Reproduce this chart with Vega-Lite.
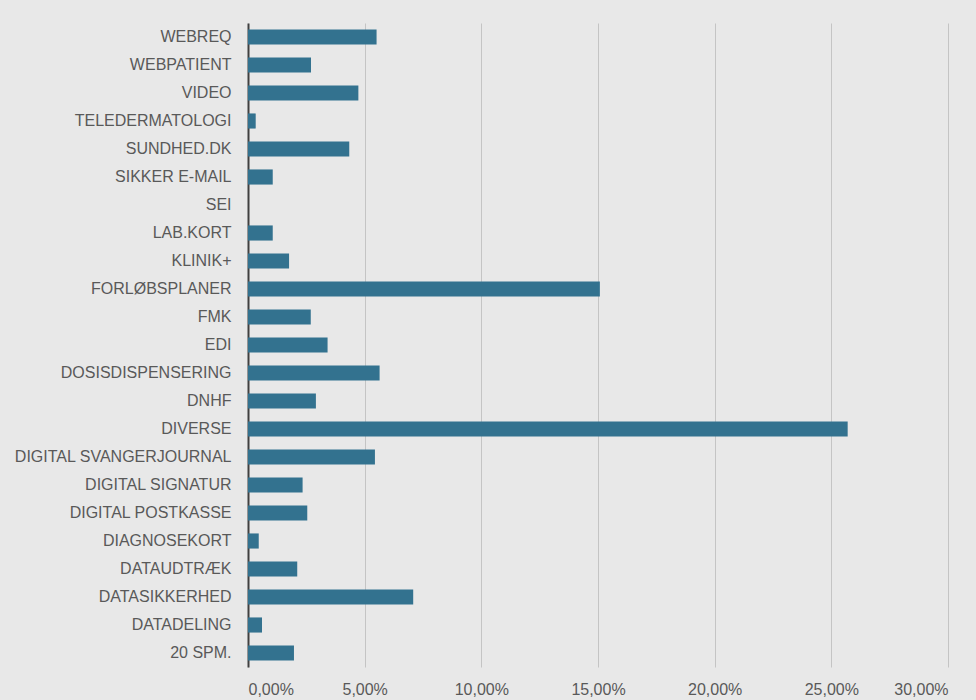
{
  "$schema": "https://vega.github.io/schema/vega-lite/v6.json",
  "width": 700,
  "height": 644,
  "autosize": {"type": "none"},
  "padding": {"left": 248, "top": 23, "right": 28, "bottom": 33},
  "background": "#e8e8e8",
  "data": {
    "values": [
      {"kategori": "WEBREQ", "andel": 0.0551},
      {"kategori": "WEBPATIENT", "andel": 0.0270},
      {"kategori": "VIDEO", "andel": 0.0473},
      {"kategori": "TELEDERMATOLOGI", "andel": 0.0033},
      {"kategori": "SUNDHED.DK", "andel": 0.0434},
      {"kategori": "SIKKER E-MAIL", "andel": 0.0106},
      {"kategori": "SEI", "andel": 0.0},
      {"kategori": "LAB.KORT", "andel": 0.0106},
      {"kategori": "KLINIK+", "andel": 0.0176},
      {"kategori": "FORLØBSPLANER", "andel": 0.1508},
      {"kategori": "FMK", "andel": 0.0269},
      {"kategori": "EDI", "andel": 0.0341},
      {"kategori": "DOSISDISPENSERING", "andel": 0.0564},
      {"kategori": "DNHF", "andel": 0.0291},
      {"kategori": "DIVERSE", "andel": 0.2570},
      {"kategori": "DIGITAL SVANGERJOURNAL", "andel": 0.0544},
      {"kategori": "DIGITAL SIGNATUR", "andel": 0.0234},
      {"kategori": "DIGITAL POSTKASSE", "andel": 0.0254},
      {"kategori": "DIAGNOSEKORT", "andel": 0.0046},
      {"kategori": "DATAUDTRÆK", "andel": 0.0211},
      {"kategori": "DATASIKKERHED", "andel": 0.0708},
      {"kategori": "DATADELING", "andel": 0.0060},
      {"kategori": "20 SPM.", "andel": 0.0197}
    ]
  },
  "mark": {"type": "bar", "color": "#33728f"},
  "encoding": {
    "y": {
      "field": "kategori",
      "type": "nominal",
      "sort": null,
      "title": null,
      "scale": {"paddingInner": 0.46, "paddingOuter": 0.23},
      "axis": {
        "ticks": false,
        "labelPadding": 17,
        "labelFont": "Liberation Sans",
        "labelFontSize": 16,
        "labelColor": "#595959",
        "domainColor": "#404040",
        "domainWidth": 2,
        "grid": false,
        "labelLimit": 300
      }
    },
    "x": {
      "field": "andel",
      "type": "quantitative",
      "title": null,
      "scale": {"domain": [0, 0.3], "nice": false},
      "axis": {
        "values": [0, 0.05, 0.1, 0.15, 0.2, 0.25, 0.3],
        "labelExpr": "replace(format(datum.value, '.2%'), '.', ',')",
        "ticks": false,
        "domain": false,
        "grid": true,
        "gridColor": "#c4c4c4",
        "gridWidth": 1,
        "labelPadding": 14,
        "labelFont": "Liberation Sans",
        "labelFontSize": 16,
        "labelColor": "#595959"
      }
    }
  },
  "config": {"view": {"stroke": null}}
}
